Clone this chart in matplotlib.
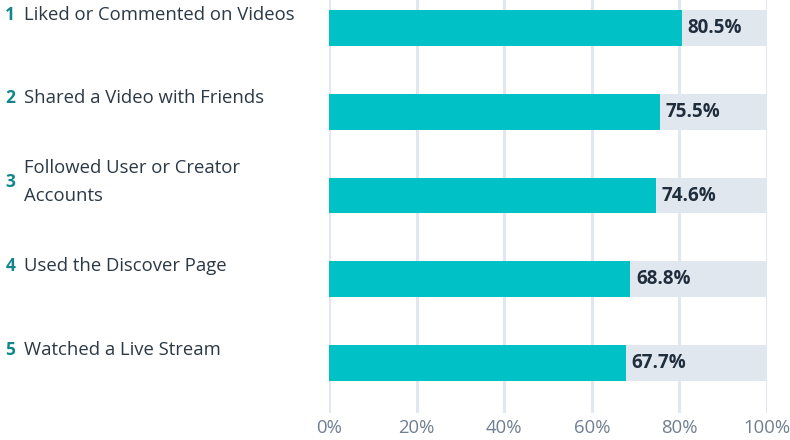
import matplotlib.pyplot as plt
import numpy as np

plt.rcParams['font.family'] = ['Open Sans', 'DejaVu Sans']

ranks = ['1', '2', '3', '4', '5']
activities = ['Liked or Commented on Videos',
              'Shared a Video with Friends',
              'Followed User or Creator\nAccounts',
              'Used the Discover Page',
              'Watched a Live Stream']
shares = [80.5, 75.5, 74.6, 68.8, 67.7]
ticks = [0, 20, 40, 60, 80, 100]

TEAL = '#00c1c6'
TRACK = '#e1e7ef'
GRID = '#e1e7ef'
DARK = '#1f2d3d'


def main():
    fig = plt.figure(figsize=(7.9, 4.4), dpi=100)
    ax = fig.add_axes([329 / 790, 27 / 440, 438 / 790, 413 / 440])

    y = np.arange(len(shares))
    h = 36 / 84

    # vertical guide lines behind the bars
    for t in ticks:
        ax.axvline(t, color=GRID, lw=2.2, zorder=0)

    ax.barh(y, [100] * len(shares), height=h, color=TRACK, zorder=1)
    ax.barh(y, shares, height=h, color=TEAL, zorder=2)

    for yi, v in zip(y, shares):
        ax.text(v + 1.3, yi, '%.1f%%' % v, va='center', ha='left',
                fontsize=13.5, fontweight='bold', color=DARK, zorder=3)

    # rank numbers and activity names to the left of the axes
    for yi, r, name in zip(y, ranks, activities):
        ax.text(-73.9, yi - 0.16, r, va='center', ha='left', fontsize=12.5,
                fontweight='bold', color='#12878b', clip_on=False)
        ax.text(-69.6, yi - 0.16, name, va='center', ha='left', fontsize=13.3,
                color='#2b3846', clip_on=False, linespacing=1.68)

    ax.set_xlim(0, 100)
    ax.set_ylim(len(shares) - 1 + 50 / 84, -28 / 84)
    ax.set_xticks(ticks)
    ax.set_xticklabels(['%d%%' % t for t in ticks], fontsize=13.3, color='#6f7f92')
    ax.tick_params(axis='x', length=0, pad=4)
    ax.set_yticks([])
    for s in ax.spines.values():
        s.set_visible(False)

    fig.savefig('out.png', dpi=100)


if __name__ == '__main__':
    main()
